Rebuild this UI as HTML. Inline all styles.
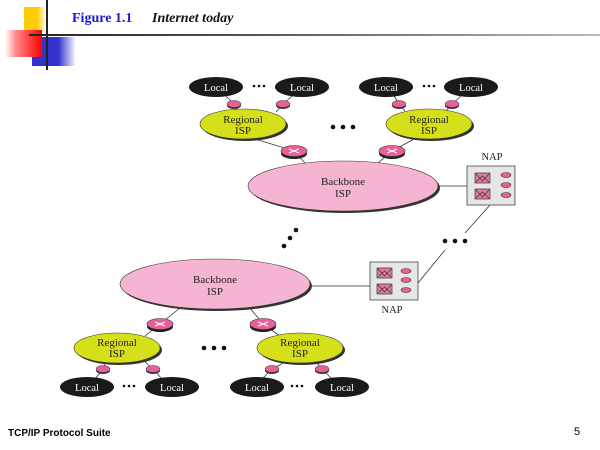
<!DOCTYPE html>
<html><head><meta charset="utf-8"><style>
html,body{margin:0;padding:0;background:#fff;}
svg{display:block;font-family:"Liberation Serif",serif;}
</style></head><body>
<svg width="600" height="450" viewBox="0 0 600 450" xmlns="http://www.w3.org/2000/svg">
<defs>
<linearGradient id="red" x1="0" y1="0" x2="1" y2="0"><stop offset="0" stop-color="#fff"/><stop offset="0.3" stop-color="#f88"/><stop offset="1" stop-color="#f00"/></linearGradient>
<linearGradient id="redv" x1="0" y1="0" x2="0" y2="1"><stop offset="0" stop-color="#f00" stop-opacity="0"/><stop offset="1" stop-color="#fff" stop-opacity="0.6"/></linearGradient>
<linearGradient id="blue" x1="0" y1="0" x2="1" y2="0"><stop offset="0" stop-color="#3333cc"/><stop offset="0.6" stop-color="#3333cc"/><stop offset="1" stop-color="#fff"/></linearGradient>
<linearGradient id="yel" x1="0" y1="0" x2="1" y2="0"><stop offset="0" stop-color="#ffcc00"/><stop offset="0.6" stop-color="#ffcc00"/><stop offset="1" stop-color="#fff"/></linearGradient>
<linearGradient id="hl" x1="0" y1="0" x2="1" y2="0"><stop offset="0" stop-color="#222"/><stop offset="0.4" stop-color="#555"/><stop offset="1" stop-color="#bbb"/></linearGradient>
<g id="sr"><ellipse cx="0" cy="1.5" rx="7" ry="3.5" fill="#333"/><ellipse cx="0" cy="0" rx="7" ry="3.5" fill="#e8609a" stroke="#333" stroke-width="0.5"/></g>
<g id="br"><ellipse cx="0" cy="2.5" rx="13" ry="5.5" fill="#222"/><ellipse cx="0" cy="0" rx="13" ry="5.5" fill="#e8609a" stroke="#333" stroke-width="0.6"/><path d="M-5,-2 L5,2 M-5,2 L5,-2" stroke="#fff" stroke-width="1"/></g>
<g id="sw"><rect x="0" y="0" width="15" height="10" fill="#e27aa6" stroke="#333" stroke-width="0.7"/><path d="M1,1 L7.5,8 L14,1 M1,9 L7.5,3 L14,9" stroke="#333" fill="none" stroke-width="0.7"/></g>
<g id="po"><ellipse cx="0" cy="0" rx="5" ry="2.5" fill="#e8609a" stroke="#333" stroke-width="0.6"/></g>
</defs>

<!-- header -->
<rect x="24" y="7" width="22" height="24" fill="url(#yel)"/>
<rect x="32" y="37" width="44" height="29" fill="url(#blue)"/>
<rect x="5" y="30" width="37" height="27" fill="url(#red)"/>
<line x1="47" y1="0" x2="47" y2="70" stroke="#222" stroke-width="2"/>
<rect x="29" y="34" width="571" height="2" fill="url(#hl)"/>
<text x="72" y="22" font-size="14" font-weight="bold" fill="#1a1ad6">Figure 1.1</text>
<text x="152" y="22" font-size="14" font-weight="bold" font-style="italic" fill="#111">Internet today</text>

<g stroke="#333" stroke-width="0.8">
<!-- top connections -->
<line x1="226" y1="96" x2="234" y2="104"/><line x1="292" y1="96" x2="283" y2="104"/>
<line x1="234" y1="104" x2="238" y2="110"/><line x1="283" y1="104" x2="276" y2="112"/>
<line x1="394" y1="96" x2="399" y2="104"/><line x1="461" y1="96" x2="452" y2="104"/>
<line x1="399" y1="104" x2="405" y2="111"/><line x1="452" y1="104" x2="446" y2="111"/>
<line x1="252" y1="138" x2="294" y2="151"/><line x1="416" y1="138" x2="392" y2="151"/>
<line x1="294" y1="151" x2="305" y2="163"/><line x1="392" y1="151" x2="378" y2="163"/>
<line x1="438" y1="186" x2="467" y2="186"/>
<line x1="490" y1="205" x2="465" y2="233"/>
<line x1="445" y1="250" x2="418" y2="283"/>
<line x1="310" y1="286" x2="370" y2="286"/>
<!-- bottom -->
<line x1="180" y1="308" x2="160" y2="324"/><line x1="250" y1="308" x2="263" y2="324"/>
<line x1="160" y1="324" x2="145" y2="336"/><line x1="263" y1="324" x2="280" y2="336"/>
<line x1="106" y1="362" x2="103" y2="369"/><line x1="103" y1="369" x2="95" y2="379"/>
<line x1="145" y1="362" x2="153" y2="369"/><line x1="153" y1="369" x2="162" y2="379"/>
<line x1="285" y1="362" x2="272" y2="369"/><line x1="272" y1="369" x2="262" y2="379"/>
<line x1="316" y1="362" x2="322" y2="369"/><line x1="322" y1="369" x2="332" y2="379"/>
</g>

<!-- locals top -->
<g font-size="10.5" text-anchor="middle" fill="#fff">
<ellipse cx="216" cy="87" rx="27" ry="10" fill="#1a1a1a"/><text x="216" y="91">Local</text>
<ellipse cx="302" cy="87" rx="27" ry="10" fill="#1a1a1a"/><text x="302" y="91">Local</text>
<ellipse cx="386" cy="87" rx="27" ry="10" fill="#1a1a1a"/><text x="386" y="91">Local</text>
<ellipse cx="471" cy="87" rx="27" ry="10" fill="#1a1a1a"/><text x="471" y="91">Local</text>
<ellipse cx="87" cy="387" rx="27" ry="10" fill="#1a1a1a"/><text x="87" y="391">Local</text>
<ellipse cx="172" cy="387" rx="27" ry="10" fill="#1a1a1a"/><text x="172" y="391">Local</text>
<ellipse cx="257" cy="387" rx="27" ry="10" fill="#1a1a1a"/><text x="257" y="391">Local</text>
<ellipse cx="342" cy="387" rx="27" ry="10" fill="#1a1a1a"/><text x="342" y="391">Local</text>
</g>
<use href="#sr" x="234" y="104"/><use href="#sr" x="283" y="104"/>
<use href="#sr" x="399" y="104"/><use href="#sr" x="452" y="104"/>
<use href="#sr" x="103" y="369"/><use href="#sr" x="153" y="369"/>
<use href="#sr" x="272" y="369"/><use href="#sr" x="322" y="369"/>

<!-- regionals -->
<g font-size="11" text-anchor="middle" fill="#222">
<ellipse cx="245" cy="126" rx="43" ry="15" fill="#333"/><ellipse cx="243" cy="124" rx="43" ry="15" fill="#d6e01a" stroke="#333" stroke-width="0.6"/>
<text x="243" y="123">Regional</text><text x="243" y="134">ISP</text>
<ellipse cx="431" cy="126" rx="43" ry="15" fill="#333"/><ellipse cx="429" cy="124" rx="43" ry="15" fill="#d6e01a" stroke="#333" stroke-width="0.6"/>
<text x="429" y="123">Regional</text><text x="429" y="134">ISP</text>
<ellipse cx="119" cy="350" rx="43" ry="15" fill="#333"/><ellipse cx="117" cy="348" rx="43" ry="15" fill="#d6e01a" stroke="#333" stroke-width="0.6"/>
<text x="117" y="346">Regional</text><text x="117" y="357">ISP</text>
<ellipse cx="302" cy="350" rx="43" ry="15" fill="#333"/><ellipse cx="300" cy="348" rx="43" ry="15" fill="#d6e01a" stroke="#333" stroke-width="0.6"/>
<text x="300" y="346">Regional</text><text x="300" y="357">ISP</text>
<!-- backbones -->
<ellipse cx="345" cy="188" rx="95" ry="25" fill="#333"/><ellipse cx="343" cy="186" rx="95" ry="25" fill="#f5b5d2" stroke="#333" stroke-width="0.6"/>
<text x="343" y="185">Backbone</text><text x="343" y="197">ISP</text>
<ellipse cx="217" cy="286" rx="95" ry="25" fill="#333"/><ellipse cx="215" cy="284" rx="95" ry="25" fill="#f5b5d2" stroke="#333" stroke-width="0.6"/>
<text x="215" y="283">Backbone</text><text x="215" y="295">ISP</text>
<text x="492" y="160" font-size="10.5">NAP</text>
<text x="392" y="313" font-size="10.5">NAP</text>
</g>
<use href="#br" x="294" y="151"/><use href="#br" x="392" y="151"/>
<use href="#br" x="160" y="324"/><use href="#br" x="263" y="324"/>

<!-- NAP boxes -->
<rect x="467" y="166" width="48" height="39" fill="#e6e6e6" stroke="#444" stroke-width="0.8"/>
<use href="#sw" x="475" y="173"/><use href="#sw" x="475" y="189"/>
<use href="#po" x="506" y="175"/><use href="#po" x="506" y="185"/><use href="#po" x="506" y="195"/>
<rect x="370" y="262" width="48" height="38" fill="#e6e6e6" stroke="#444" stroke-width="0.8"/>
<use href="#sw" x="377" y="268"/><use href="#sw" x="377" y="284"/>
<use href="#po" x="406" y="271"/><use href="#po" x="406" y="280"/><use href="#po" x="406" y="290"/>

<!-- dots -->
<g fill="#111">
<circle cx="254" cy="86" r="1.3"/><circle cx="259" cy="86" r="1.3"/><circle cx="264" cy="86" r="1.3"/>
<circle cx="424" cy="86" r="1.3"/><circle cx="429" cy="86" r="1.3"/><circle cx="434" cy="86" r="1.3"/>
<circle cx="333" cy="127" r="2.3"/><circle cx="343" cy="127" r="2.3"/><circle cx="353" cy="127" r="2.3"/>
<circle cx="445" cy="241" r="2.3"/><circle cx="455" cy="241" r="2.3"/><circle cx="465" cy="241" r="2.3"/>
<circle cx="296" cy="230" r="2.3"/><circle cx="290" cy="238" r="2.3"/><circle cx="284" cy="246" r="2.3"/>
<circle cx="204" cy="348" r="2.3"/><circle cx="214" cy="348" r="2.3"/><circle cx="224" cy="348" r="2.3"/>
<circle cx="124" cy="386" r="1.3"/><circle cx="129" cy="386" r="1.3"/><circle cx="134" cy="386" r="1.3"/>
<circle cx="292" cy="386" r="1.3"/><circle cx="297" cy="386" r="1.3"/><circle cx="302" cy="386" r="1.3"/>
</g>

<!-- footer -->
<text x="8" y="436" font-family="Liberation Sans, sans-serif" font-size="10" font-weight="bold" fill="#000">TCP/IP Protocol Suite</text>
<text x="574" y="435" font-family="Liberation Sans, sans-serif" font-size="11" fill="#000">5</text>
</svg>
</body></html>
